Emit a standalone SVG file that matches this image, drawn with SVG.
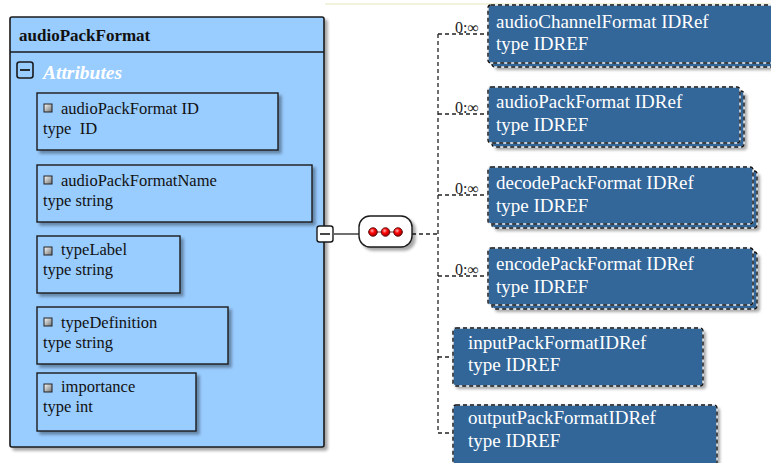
<svg xmlns="http://www.w3.org/2000/svg" width="771" height="463" viewBox="0 0 771 463">
<defs>
<filter id="sh" x="-10%" y="-10%" width="130%" height="140%">
<feGaussianBlur in="SourceAlpha" stdDeviation="1.5"/>
<feOffset dx="3" dy="3" result="b"/>
<feComponentTransfer><feFuncA type="linear" slope="0.35"/></feComponentTransfer>
<feMerge><feMergeNode/><feMergeNode in="SourceGraphic"/></feMerge>
</filter>
<linearGradient id="ic" x1="0" y1="0" x2="1" y2="1">
<stop offset="0" stop-color="#ffffff"/>
<stop offset="1" stop-color="#707070"/>
</linearGradient>
<radialGradient id="dot" cx="0.4" cy="0.35" r="0.6">
<stop offset="0" stop-color="#ffb0b0"/>
<stop offset="0.5" stop-color="#ff0000"/>
<stop offset="1" stop-color="#b00000"/>
</radialGradient>
<g id="icon"><rect x="0" y="0" width="8" height="8" fill="url(#ic)" stroke="#222" stroke-width="1"/></g>
</defs>
<style>
.t{font-family:"Liberation Serif","Times New Roman",serif;font-size:16.5px;fill:#111}
.w{font-family:"Liberation Serif","Times New Roman",serif;font-size:19px;fill:#fff}
.lab{font-family:"Liberation Serif","Times New Roman",serif;font-size:16px;fill:#222}
.attr{fill:#99ccff;stroke:#1a1a1a;stroke-width:1.4}
.ch{fill:#336699}
.wb{fill:none;stroke:#e8eef5;stroke-width:1.4}
.db{fill:none;stroke:#111;stroke-width:1.4;stroke-dasharray:4 3}
.con{fill:none;stroke:#222;stroke-width:1.3;stroke-dasharray:4 3}
</style>
<line x1="325" y1="4" x2="771" y2="4" stroke="#eeeed2" stroke-width="1.5"/>

<g id="audioPackFormat">
<rect x="10" y="17" width="314" height="430" rx="2" fill="#99ccff" stroke="#1a1a1a" stroke-width="1.6" filter="url(#sh)"/>
<line x1="10" y1="52" x2="324" y2="52" stroke="#1a1a1a" stroke-width="1.4"/>
<text x="19" y="41" class="t" style="font-weight:bold;font-size:17px">audioPackFormat</text>
<rect x="17" y="62" width="16" height="16" rx="2.5" fill="none" stroke="#1a1a1a" stroke-width="1.6"/>
<line x1="20" y1="70" x2="30" y2="70" stroke="#1a1a1a" stroke-width="1.8"/>
<text x="43" y="79" class="t" style="font-style:italic;font-weight:bold;fill:#fff;font-size:19.5px">Attributes</text>
</g>

<g id="attr-audioPackFormatID">
<rect x="37" y="93" width="241" height="57" class="attr" filter="url(#sh)"/>
<use href="#icon" x="44" y="104"/>
<text x="61" y="114" class="t">audioPackFormat ID</text>
<text x="43" y="134" class="t" xml:space="preserve">type  ID</text>
</g>
<g id="attr-audioPackFormatName">
<rect x="37" y="165" width="275" height="57" class="attr" filter="url(#sh)"/>
<use href="#icon" x="44" y="176"/>
<text x="61" y="186" class="t">audioPackFormatName</text>
<text x="43" y="206" class="t">type string</text>
</g>
<g id="attr-typeLabel">
<rect x="37" y="236" width="143" height="57" class="attr" filter="url(#sh)"/>
<use href="#icon" x="44" y="247"/>
<text x="61" y="255" class="t">typeLabel</text>
<text x="43" y="275" class="t">type string</text>
</g>
<g id="attr-typeDefinition">
<rect x="37" y="307" width="191" height="57" class="attr" filter="url(#sh)"/>
<use href="#icon" x="44" y="318"/>
<text x="61" y="328" class="t">typeDefinition</text>
<text x="43" y="348" class="t">type string</text>
</g>
<g id="attr-importance">
<rect x="37" y="373" width="159" height="58" class="attr" filter="url(#sh)"/>
<use href="#icon" x="44" y="384"/>
<text x="61" y="392" class="t">importance</text>
<text x="43" y="412" class="t">type int</text>
</g>

<g id="connectors">
<line x1="334" y1="234" x2="359" y2="234" stroke="#222" stroke-width="1.3"/>
<line x1="412" y1="234" x2="438" y2="234" class="con"/>
<line x1="438" y1="34" x2="438" y2="433" class="con"/>
<line x1="438" y1="34" x2="488" y2="34" class="con"/>
<line x1="438" y1="114" x2="488" y2="114" class="con"/>
<line x1="438" y1="195" x2="488" y2="195" class="con"/>
<line x1="438" y1="276" x2="488" y2="276" class="con"/>
<line x1="438" y1="357" x2="453" y2="357" class="con"/>
<line x1="438" y1="433" x2="453" y2="433" class="con"/>
<text x="455" y="33" class="lab">0:∞</text>
<text x="455" y="113" class="lab">0:∞</text>
<text x="455" y="194" class="lab">0:∞</text>
<text x="455" y="275" class="lab">0:∞</text>
</g>

<g id="collapse">
<rect x="317" y="226" width="16" height="16" rx="2.5" fill="#fff" stroke="#1a1a1a" stroke-width="1.4"/>
<line x1="320" y1="234" x2="330" y2="234" stroke="#1a1a1a" stroke-width="1.6"/>
</g>

<g id="sequence">
<rect x="359" y="216" width="53" height="31" rx="11" fill="#fff" stroke="#1a1a1a" stroke-width="1.4" filter="url(#sh)"/>
<line x1="368" y1="232" x2="403" y2="232" stroke="#400" stroke-width="0.8"/>
<circle cx="373" cy="232" r="4.3" fill="url(#dot)" stroke="#400" stroke-width="0.8"/>
<circle cx="385.5" cy="232" r="4.3" fill="url(#dot)" stroke="#400" stroke-width="0.8"/>
<circle cx="398" cy="232" r="4.3" fill="url(#dot)" stroke="#400" stroke-width="0.8"/>
</g>

<g id="audioChannelFormatIDRef">
<rect x="492" y="9" width="290" height="58" rx="3" class="ch" filter="url(#sh)"/>
<rect x="492" y="9" width="290" height="58" rx="3" class="wb"/>
<rect x="492" y="9" width="290" height="58" rx="3" class="db"/>
<rect x="488" y="5" width="290" height="58" rx="3" class="ch"/>
<rect x="488" y="5" width="290" height="58" rx="3" class="wb"/>
<rect x="488" y="5" width="290" height="58" rx="3" class="db"/>
<text x="496" y="28" class="w">audioChannelFormat IDRef</text>
<text x="496" y="50" class="w">type IDREF</text>
</g>
<g id="audioPackFormatIDRef">
<rect x="492" y="91" width="252" height="56" rx="3" class="ch" filter="url(#sh)"/>
<rect x="492" y="91" width="252" height="56" rx="3" class="wb"/>
<rect x="492" y="91" width="252" height="56" rx="3" class="db"/>
<rect x="488" y="87" width="252" height="56" rx="3" class="ch"/>
<rect x="488" y="87" width="252" height="56" rx="3" class="wb"/>
<rect x="488" y="87" width="252" height="56" rx="3" class="db"/>
<text x="496" y="108" class="w">audioPackFormat IDRef</text>
<text x="496" y="131" class="w">type IDREF</text>
</g>
<g id="decodePackFormatIDRef">
<rect x="492" y="171" width="265" height="57" rx="3" class="ch" filter="url(#sh)"/>
<rect x="492" y="171" width="265" height="57" rx="3" class="wb"/>
<rect x="492" y="171" width="265" height="57" rx="3" class="db"/>
<rect x="488" y="167" width="265" height="57" rx="3" class="ch"/>
<rect x="488" y="167" width="265" height="57" rx="3" class="wb"/>
<rect x="488" y="167" width="265" height="57" rx="3" class="db"/>
<text x="496" y="189" class="w">decodePackFormat IDRef</text>
<text x="496" y="212" class="w">type IDREF</text>
</g>
<g id="encodePackFormatIDRef">
<rect x="492" y="252" width="265" height="57" rx="3" class="ch" filter="url(#sh)"/>
<rect x="492" y="252" width="265" height="57" rx="3" class="wb"/>
<rect x="492" y="252" width="265" height="57" rx="3" class="db"/>
<rect x="488" y="248" width="265" height="57" rx="3" class="ch"/>
<rect x="488" y="248" width="265" height="57" rx="3" class="wb"/>
<rect x="488" y="248" width="265" height="57" rx="3" class="db"/>
<text x="496" y="270" class="w">encodePackFormat IDRef</text>
<text x="496" y="293" class="w">type IDREF</text>
</g>
<g id="inputPackFormatIDRef">
<rect x="453" y="328" width="250" height="58" rx="3" class="ch" filter="url(#sh)"/>
<rect x="453" y="328" width="250" height="58" rx="3" class="wb"/>
<rect x="453" y="328" width="250" height="58" rx="3" class="db"/>
<text x="468" y="349" class="w">inputPackFormatIDRef</text>
<text x="468" y="371" class="w">type IDREF</text>
</g>
<g id="outputPackFormatIDRef">
<rect x="453" y="405" width="264" height="62" rx="3" class="ch" filter="url(#sh)"/>
<rect x="453" y="405" width="264" height="62" rx="3" class="wb"/>
<rect x="453" y="405" width="264" height="62" rx="3" class="db"/>
<text x="468" y="424" class="w">outputPackFormatIDRef</text>
<text x="468" y="447" class="w">type IDREF</text>
</g>
</svg>
